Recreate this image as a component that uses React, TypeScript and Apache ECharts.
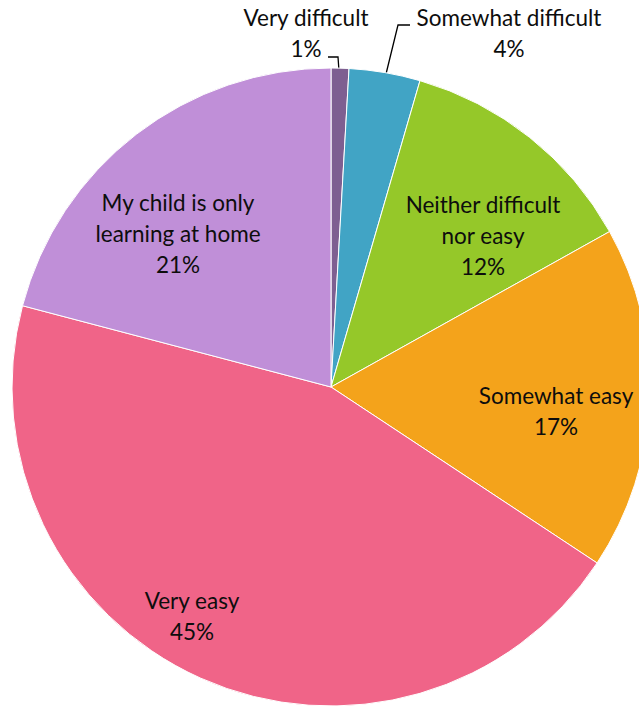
import React, { useEffect, useRef } from "react";
import * as echarts from "echarts";

const categories = [
  "Very difficult",
  "Somewhat difficult",
  "Neither difficult\nnor easy",
  "Somewhat easy",
  "Very easy",
  "My child is only\nlearning at home",
];
const values = [0.9, 3.6, 12.4, 17.4, 44.8, 20.9];
const colors = ["#7e5f91", "#41a4c5", "#95c829", "#f4a31b", "#f06488", "#c08fd8"];

// label centres (layout only)
const labelPos: Record<number, { x: number; y: number; line?: number[][] }> = {
  0: { x: 306, y: 33, line: [[339, 71], [338, 57], [328, 57]] },
  1: { x: 509, y: 33, line: [[386, 74], [398, 25], [410, 25]] },
  2: { x: 483, y: 235 },
  3: { x: 556, y: 411 },
  4: { x: 192, y: 616 },
  5: { x: 178, y: 233 },
};

export default function App() {
  const ref = useRef<HTMLDivElement>(null);
  useEffect(() => {
    document.body.style.margin = "0";
    const chart = echarts.init(ref.current!, null, { renderer: "svg" });
    chart.setOption({
      animation: false,
      series: [
        {
          type: "pie",
          center: [331, 387],
          radius: 319,
          startAngle: 90,
          clockwise: true,
          avoidLabelOverlap: false,
          itemStyle: { borderColor: "#ffffff", borderWidth: 1 },
          data: categories.map((c, i) => ({
            name: c,
            value: values[i],
            itemStyle: { color: colors[i] },
            label: { position: i < 2 ? "outside" : "inside" },
            labelLine: { show: i < 2 },
          })),
          label: {
            formatter: (p: any) => `${p.name}\n${Math.round(p.percent)}%`,
            fontFamily: "Lato, 'Open Sans', sans-serif",
            fontSize: 22.5,
            lineHeight: 31,
            color: "#0d0d0d",
            align: "center",
          },
          labelLine: {
            lineStyle: { color: "#000000", width: 1.3 },
          },
          labelLayout: (p: any) => {
            const lp = labelPos[p.dataIndex];
            const r: any = { x: lp.x, y: lp.y, align: "center", verticalAlign: "middle" };
            if (lp.line) r.labelLinePoints = lp.line;
            return r;
          },
        },
      ],
    });
    return () => chart.dispose();
  }, []);
  return <div ref={ref} style={{ width: 639, height: 706 }} />;
}
